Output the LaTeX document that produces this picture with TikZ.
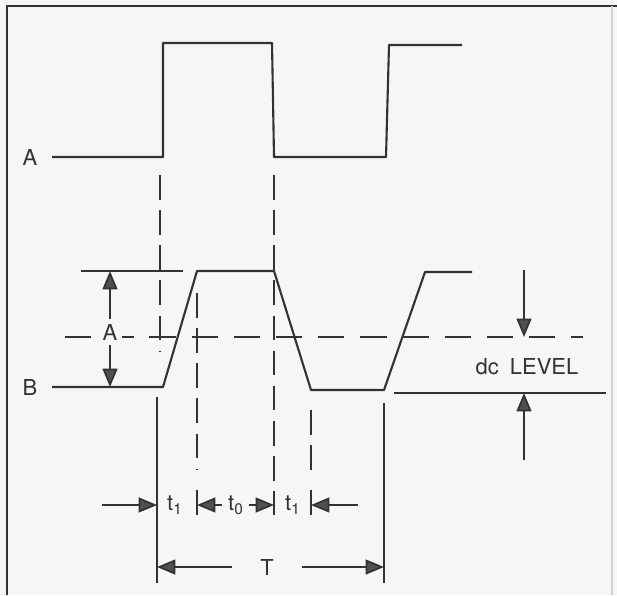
\documentclass[tikz,border=0pt]{standalone}
\usepackage{fontspec}
\setmainfont{TeX Gyre Heros}
\usetikzlibrary{arrows.meta,positioning}
\definecolor{inkgray}{RGB}{50,50,50}
\definecolor{tipgray}{RGB}{80,80,80}
\definecolor{papergray}{RGB}{246,246,246}

\begin{document}
\begin{tikzpicture}[x=0.02cm,y=-0.02cm,
    sig/.style={inkgray,line width=1.2pt,line join=round},
    guide/.style={inkgray,line width=1.1pt,dash pattern=on 14pt off 6pt},
    dclevel/.style={inkgray,line width=1.1pt,dash pattern=on 15pt off 9pt},
    dimarrow/.style={inkgray,line width=1pt,-{Triangle[length=10.5pt,width=8.5pt,fill=tipgray]}},
    lab/.style={font=\fontsize{12.5}{15}\selectfont,text=inkgray,inner sep=1pt},
    cut/.style={lab,fill=papergray,inner sep=2.5pt}]
  % --- page and frame ---
  \fill[papergray] (0,0) rectangle (617,595);
  \useasboundingbox (0,0) rectangle (617,595);
  \draw[inkgray,line width=1.6pt] (7,595) -- (7,6) -- (617,6);
  \draw[black!18,line width=0.8pt] (612,6) -- (612,595);
  % --- waveform A (square) ---
  \node[lab] (labA) at (30,157) {A};
  \coordinate (a0) at (52,157);  \coordinate (a1) at (163,157);
  \coordinate (a2) at (163,43);  \coordinate (a3) at (272,43);
  \coordinate (a4) at (274,157); \coordinate (a5) at (386,157);
  \coordinate (a6) at (389,45);  \coordinate (a7) at (462,45);
  \draw[sig] (a0) -- (a1) -- (a2) -- (a3) -- (a4) -- (a5) -- (a6) -- (a7);
  % --- waveform B (trapezoid) ---
  \node[lab] (labB) at (30,387) {B};
  \coordinate (b0) at (52,387);  \coordinate (b1) at (163,387);
  \coordinate (b2) at (197,271); \coordinate (b3) at (274,271);
  \coordinate (b4) at (311,390); \coordinate (b5) at (384,390);
  \coordinate (b6) at (425,272); \coordinate (b7) at (472,272);
  \draw[sig] (b0) -- (b1) -- (b2) -- (b3) -- (b4) -- (b5) -- (b6) -- (b7);
  % --- extension lines ---
  \coordinate (top0) at (81,271);  \coordinate (top1) at (183,271);
  \coordinate (low0) at (394,393); \coordinate (low1) at (606,393);
  \draw[sig] (top0) -- (top1);
  \draw[sig] (low0) -- (low1);
  \coordinate (dc0) at (65,337); \coordinate (dc1) at (583,337);
  \draw[dclevel] (dc0) -- (dc1);
  % --- vertical guides ---
  \coordinate (g1a) at (160,175); \coordinate (g1b) at (160,352);
  \coordinate (g2a) at (274,175); \coordinate (g2b) at (274,515);
  \coordinate (g3a) at (197,293); \coordinate (g3b) at (197,470);
  \coordinate (g4a) at (311,410); \coordinate (g4b) at (311,470);
  \draw[guide] (g1a) -- (g1b);
  \draw[guide] (g2a) -- (g2b);
  \draw[guide] (g3a) -- (g3b);
  \draw[guide] (g4a) -- (g4b);
  \coordinate (k3a) at (197,490); \coordinate (k3b) at (197,515);
  \coordinate (k4a) at (311,490); \coordinate (k4b) at (311,515);
  \draw[sig] (k3a) -- (k3b);
  \draw[sig] (k4a) -- (k4b);
  \coordinate (s1a) at (157,397); \coordinate (s1b) at (157,583);
  \coordinate (s2a) at (384,403); \coordinate (s2b) at (384,583);
  \draw[sig] (s1a) -- (s1b);
  \draw[sig] (s2a) -- (s2b);
  % --- amplitude A ---
  \coordinate (ampT) at (110,271); \coordinate (ampB) at (110,387);
  \node[cut] (ampA) at (110,332) {A};
  \draw[dimarrow] (ampA.north) -- (ampT);
  \draw[dimarrow] (ampA.south) -- (ampB);
  % --- dc level ---
  \coordinate (dcT0) at (524,270); \coordinate (dcT1) at (524,337);
  \coordinate (dcB0) at (524,460); \coordinate (dcB1) at (524,393);
  \draw[dimarrow] (dcT0) -- (dcT1);
  \draw[dimarrow] (dcB0) -- (dcB1);
  \node[lab] (dclab) at (527,367) {dc\hspace{0.5em}LEVEL};
  % --- timing t1 t0 t1 ---
  \coordinate (r1a) at (102,505); \coordinate (r1b) at (157,505);
  \coordinate (r2a) at (222,505); \coordinate (r2b) at (197,505);
  \coordinate (r3a) at (249,505); \coordinate (r3b) at (274,505);
  \coordinate (r4a) at (358,505); \coordinate (r4b) at (311,505);
  \draw[dimarrow] (r1a) -- (r1b);
  \draw[dimarrow] (r2a) -- (r2b);
  \draw[dimarrow] (r3a) -- (r3b);
  \draw[dimarrow] (r4a) -- (r4b);
  \node[lab] (lt1a) at (175,505) {t\textsubscript{1}};
  \node[lab] (lt0)  at (236,505) {t\textsubscript{0}};
  \node[lab] (lt1b) at (293,505) {t\textsubscript{1}};
  % --- period T ---
  \coordinate (pL) at (157,567); \coordinate (pR) at (384,567);
  \node[lab] (labT) at (267,567) {T};
  \draw[dimarrow] ([xshift=-20]labT.center) -- (pL);
  \draw[dimarrow] ([xshift=20]labT.center) -- (pR);
\end{tikzpicture}
\end{document}
